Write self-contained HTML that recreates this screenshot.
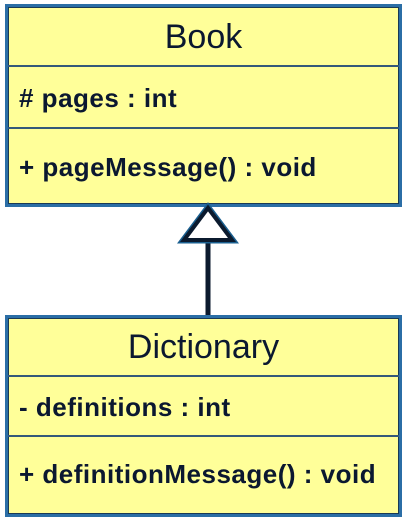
<!DOCTYPE html>
<html><head><style>
body{margin:0;width:406px;height:522px;background:#fff;overflow:hidden;position:relative;font-family:"Liberation Sans",Arial,sans-serif;color:#0b1830}
.box{position:absolute;left:5px;width:391px;background:#ffff99;border:3px solid #2b6ea6;box-shadow:inset 0 0 0 1px #1a3a55}
.t{position:absolute;left:0;right:0;text-align:center;font-size:34px}
.a{position:absolute;left:11px;font-size:26px;font-weight:bold;white-space:nowrap;letter-spacing:0.5px}
.d{position:absolute;left:0;right:0;height:2px;background:#34597a}
</style></head><body>
<div class="box" style="top:4px;height:197px">
 <div class="t" style="top:11px">Book</div>
 <div class="d" style="top:58px"></div>
 <div class="a" style="top:76px"># pages : int</div>
 <div class="d" style="top:120px"></div>
 <div class="a" style="top:145px">+ pageMessage() : void</div>
</div>
<svg style="position:absolute;left:0;top:0" width="406" height="522">
 <line x1="208" y1="238" x2="208" y2="316" stroke="#0b1a2e" stroke-width="5"/>
 <polygon points="208,208 184,240 232,240" fill="#fff" stroke="#1a5f8f" stroke-width="7"/>
 <polygon points="208,208 184,240 232,240" fill="#fff" stroke="#0b1a2e" stroke-width="4"/>
</svg>
<div class="box" style="top:315px;height:196px">
 <div class="t" style="top:10px">Dictionary</div>
 <div class="d" style="top:57px"></div>
 <div class="a" style="top:74px">- definitions : int</div>
 <div class="d" style="top:117px"></div>
 <div class="a" style="top:141px">+ definitionMessage() : void</div>
</div>
</body></html>
